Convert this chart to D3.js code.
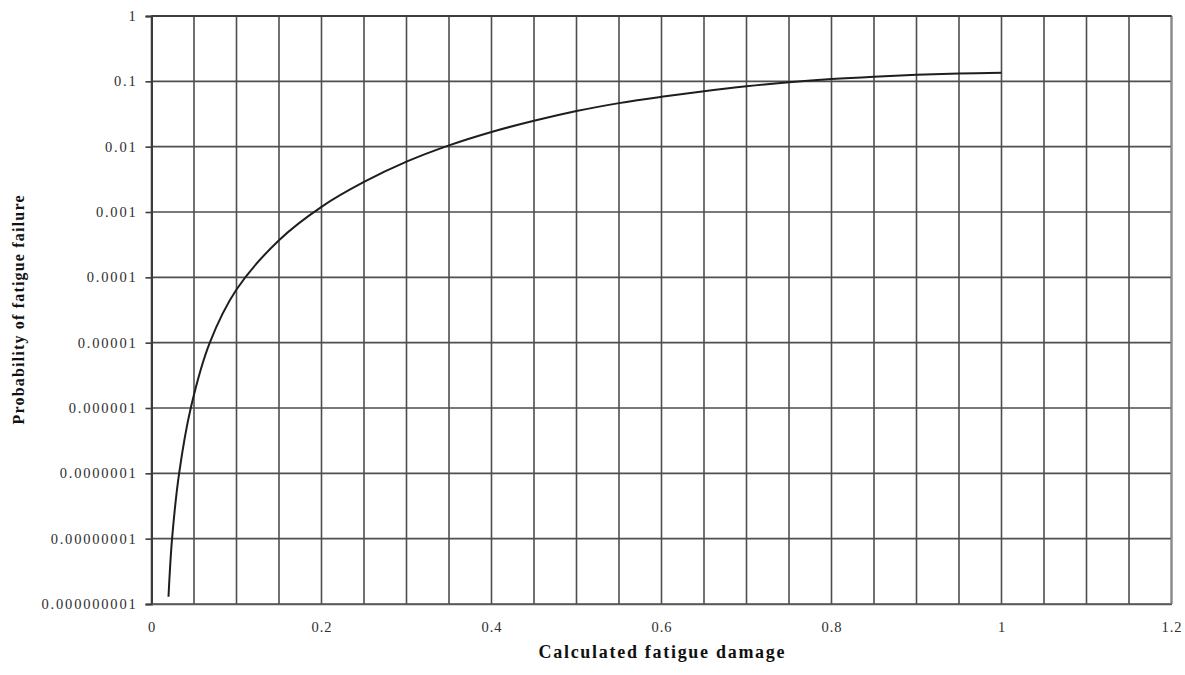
<!DOCTYPE html>
<html>
<head>
<meta charset="utf-8">
<script src="https://cdn.jsdelivr.net/npm/d3@7"></script>
<style>
  html, body { margin: 0; padding: 0; background: #fff; }
  svg { display: block; }
  text { font-family: "Liberation Serif", "Times New Roman", serif; }
</style>
</head>
<body>
<svg id="chart" width="1185" height="675"></svg>
<script>
// Calculated fatigue damage vs. probability of fatigue failure
const damage = [0.02, 0.0242, 0.0325, 0.0462, 0.0686, 0.1, 0.15, 0.2,
                0.25, 0.3, 0.35, 0.4, 0.45, 0.5, 0.55, 0.6, 0.65, 0.7, 0.75, 0.8, 0.85, 0.9, 0.95, 1.0];
const probability = [1.29e-9, 1e-8, 1e-7, 1e-6, 1e-5, 6.5e-5, 3.7e-4, 1.2e-3,
                     2.88e-3, 5.89e-3, 0.01047, 0.0168, 0.0249, 0.0352, 0.0464, 0.0579, 0.0705,
                     0.0838, 0.0966, 0.1084, 0.118, 0.1259, 0.1315, 0.1355];

const xTickValues = [0, 0.2, 0.4, 0.6, 0.8, 1, 1.2];
const xTickLabels = ["0", "0.2", "0.4", "0.6", "0.8", "1", "1.2"];
const xGridValues = d3.range(0, 25).map(i => i * 0.05);
const yTickValues = [1, 0.1, 0.01, 0.001, 0.0001, 1e-5, 1e-6, 1e-7, 1e-8, 1e-9];
const yTickLabels = ["1", "0.1", "0.01", "0.001", "0.0001", "0.00001", "0.000001",
                     "0.0000001", "0.00000001", "0.000000001"];

const xTitle = "Calculated fatigue damage";
const yTitle = "Probability of fatigue failure";

const svg = d3.select("#chart");
const plot = { left: 151.5, right: 1171.5, top: 16, bottom: 604 };

const x = d3.scaleLinear().domain([0, 1.2]).range([plot.left, plot.right]);
const y = d3.scaleLog().domain([1e-9, 1]).range([plot.bottom, plot.top]);

const gridColor = "#4e4e4e";

// vertical grid every 0.05
svg.append("g")
  .selectAll("line")
  .data(xGridValues)
  .join("line")
  .attr("x1", d => x(d)).attr("x2", d => x(d))
  .attr("y1", plot.top).attr("y2", plot.bottom)
  .attr("stroke", gridColor)
  .attr("stroke-width", 1.6);

// horizontal grid at each decade
svg.append("g")
  .selectAll("line")
  .data(yTickValues)
  .join("line")
  .attr("x1", plot.left).attr("x2", plot.right)
  .attr("y1", d => y(d)).attr("y2", d => y(d))
  .attr("stroke", gridColor)
  .attr("stroke-width", 1.6);

// right frame edge
svg.append("line")
  .attr("x1", plot.right).attr("x2", plot.right)
  .attr("y1", plot.top).attr("y2", plot.bottom)
  .attr("stroke", "#8a8a8a").attr("stroke-width", 2);

// left axis with tick marks and labels
const yAxis = d3.axisLeft(y)
  .tickValues(yTickValues)
  .tickSize(6)
  .tickFormat((d, i) => yTickLabels[i]);

const gy = svg.append("g")
  .attr("transform", `translate(${plot.left},0)`)
  .call(yAxis);
gy.select(".domain").attr("stroke", "#3c3c3c").attr("stroke-width", 2);
gy.selectAll(".tick line").attr("stroke", "#3c3c3c").attr("stroke-width", 1.6);
gy.selectAll(".tick text")
  .attr("x", -14)
  .attr("fill", "#2e2e2e")
  .style("font-size", "14.5px")
  .style("letter-spacing", "1.8px")
  .style("font-family", "'Liberation Serif', serif");

// bottom axis labels
const xAxis = d3.axisBottom(x)
  .tickValues(xTickValues)
  .tickSize(0)
  .tickFormat((d, i) => xTickLabels[i]);

const gx = svg.append("g")
  .attr("transform", `translate(0,${plot.bottom})`)
  .call(xAxis);
gx.select(".domain").attr("stroke", "#5a5a5a").attr("stroke-width", 1.6);
gx.selectAll(".tick text")
  .attr("y", 18)
  .attr("fill", "#2e2e2e")
  .style("font-size", "14.5px")
  .style("letter-spacing", "1px")
  .style("font-family", "'Liberation Serif', serif");

// top border
svg.append("line")
  .attr("x1", plot.left).attr("x2", plot.right)
  .attr("y1", plot.top).attr("y2", plot.top)
  .attr("stroke", "#3c3c3c").attr("stroke-width", 2);

// probability curve
const line = d3.line()
  .x((d, i) => x(damage[i]))
  .y((d, i) => y(probability[i]))
  .curve(d3.curveCatmullRom.alpha(0.5));

svg.append("path")
  .datum(probability)
  .attr("d", line)
  .attr("fill", "none")
  .attr("stroke", "#1e1e1e")
  .attr("stroke-width", 2);

// axis titles
svg.append("text")
  .attr("x", (plot.left + plot.right) / 2)
  .attr("y", 658)
  .attr("text-anchor", "middle")
  .attr("textLength", 246)
  .attr("lengthAdjust", "spacing")
  .attr("fill", "#111")
  .style("font-size", "18px")
  .style("font-weight", "bold")
  .text(xTitle);

svg.append("text")
  .attr("transform", `translate(24,${(plot.top + plot.bottom) / 2}) rotate(-90)`)
  .attr("text-anchor", "middle")
  .attr("textLength", 229)
  .attr("lengthAdjust", "spacing")
  .attr("fill", "#111")
  .style("font-size", "16px")
  .style("font-weight", "bold")
  .text(yTitle);
</script>
</body>
</html>
